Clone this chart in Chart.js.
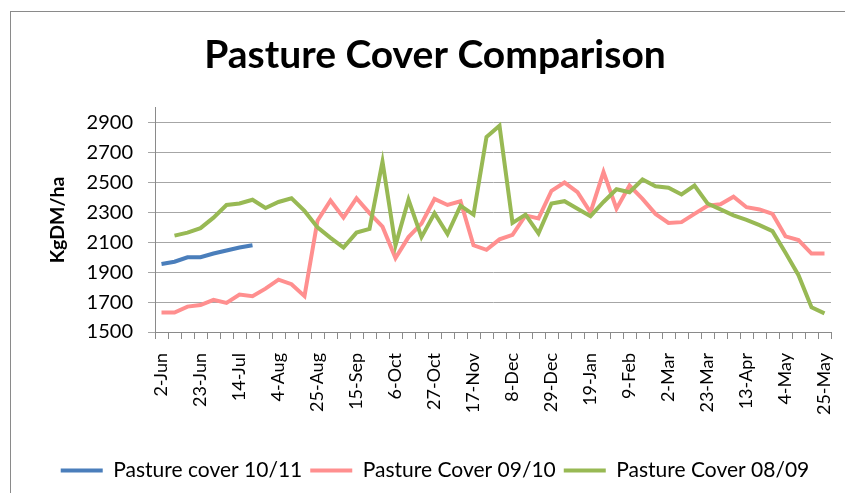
<!DOCTYPE html>
<html lang="en">
<head>
<meta charset="UTF-8">
<title>Pasture Cover Comparison</title>
<script src="https://cdn.jsdelivr.net/npm/chart.js"></script>
<style>
    html, body { margin: 0; padding: 0; background: #fff; overflow: hidden; }
    #wrap { position: relative; width: 845px; height: 493px; }
    #frame { position: absolute; left: 10px; top: 11px; width: 900px; height: 600px;
             border: 1.5px solid #8a8a8a; box-sizing: border-box; }
    canvas { position: absolute; left: 0; top: 0; }
</style>
</head>
<body>
<div id="wrap">
    <div id="frame"></div>
    <canvas id="grafico" width="845" height="493"></canvas>
</div>

<script>
    // weekly dates, June to May
    var semanas = ['2-Jun', '9-Jun', '16-Jun', '23-Jun', '30-Jun', '7-Jul', '14-Jul', '21-Jul', '28-Jul',
        '4-Aug', '11-Aug', '18-Aug', '25-Aug', '1-Sep', '8-Sep', '15-Sep', '22-Sep', '29-Sep',
        '6-Oct', '13-Oct', '20-Oct', '27-Oct', '3-Nov', '10-Nov', '17-Nov', '24-Nov', '1-Dec',
        '8-Dec', '15-Dec', '22-Dec', '29-Dec', '5-Jan', '12-Jan', '19-Jan', '26-Jan', '2-Feb',
        '9-Feb', '16-Feb', '23-Feb', '2-Mar', '9-Mar', '16-Mar', '23-Mar', '30-Mar', '6-Apr',
        '13-Apr', '20-Apr', '27-Apr', '4-May', '11-May', '18-May', '25-May'];

    var cover1011 = [1955, 1970, 2000, 2000, 2025, 2045, 2065, 2080];

    var cover0910 = [1630, 1630, 1670, 1680, 1715, 1695, 1750, 1740, 1790, 1850, 1820, 1740,
        2245, 2380, 2265, 2395, 2295, 2205, 1995, 2135, 2225, 2390, 2350, 2375, 2080, 2050,
        2120, 2150, 2280, 2260, 2445, 2500, 2435, 2300, 2570, 2325, 2480, 2390, 2290, 2230,
        2235, 2290, 2345, 2355, 2405, 2335, 2320, 2290, 2140, 2115, 2025, 2025];

    var cover0809 = [null, 2145, 2165, 2195, 2265, 2350, 2360, 2385, 2330, 2370, 2395, 2310,
        2200, 2130, 2065, 2165, 2190, 2640, 2080, 2385, 2135, 2295, 2155, 2345, 2285, 2805,
        2880, 2230, 2285, 2160, 2360, 2375, 2325, 2275, 2370, 2455, 2435, 2520, 2475, 2465,
        2420, 2480, 2360, 2320, 2280, 2250, 2215, 2175, 2030, 1880, 1665, 1625];

    var yTicks = [1500, 1700, 1900, 2100, 2300, 2500, 2700, 2900];

    var fonte = 'Lato, "Liberation Sans", sans-serif';

    var ctx = document.getElementById('grafico').getContext('2d');
    var grafico = new Chart(ctx, {
        type: 'line',
        data: {
            labels: semanas,
            datasets: [{
                label: 'Pasture cover 10/11',
                data: cover1011,
                borderColor: '#4a7ebb',
                backgroundColor: '#4a7ebb',
                borderWidth: 4,
                pointRadius: 0,
                order: 0
            }, {
                label: 'Pasture Cover 09/10',
                data: cover0910,
                borderColor: '#ff8f8f',
                backgroundColor: '#ff8f8f',
                borderWidth: 4,
                pointRadius: 0,
                order: 2
            }, {
                label: 'Pasture Cover 08/09',
                data: cover0809,
                borderColor: '#98b954',
                backgroundColor: '#98b954',
                borderWidth: 4,
                pointRadius: 0,
                order: 1
            }]
        },
        options: {
            responsive: false,
            animation: false,
            events: [],
            layout: { padding: { left: 25, right: 0, top: 0, bottom: 2 } },
            plugins: {
                title: {
                    display: true,
                    text: 'Pasture Cover Comparison',
                    color: '#000',
                    font: { family: fonte, size: 39, weight: 'bold' },
                    padding: { top: 32, bottom: 29 }
                },
                legend: {
                    position: 'bottom',
                    labels: {
                        usePointStyle: true,
                        pointStyle: 'line',
                        pointStyleWidth: 42,
                        color: '#000',
                        font: { family: fonte, size: 21 },
                        padding: 8,
                        sort: function (a, b) { return a.datasetIndex - b.datasetIndex; }
                    }
                },
                tooltip: { enabled: false }
            },
            scales: {
                x: {
                    offset: true,
                    grid: {
                        offset: true,
                        drawOnChartArea: false,
                        drawTicks: true,
                        tickLength: 7,
                        color: '#8a8a8a'
                    },
                    border: { color: '#8a8a8a' },
                    ticks: {
                        autoSkip: false,
                        maxRotation: 90,
                        minRotation: 90,
                        padding: 14,
                        color: '#000',
                        font: { family: fonte, size: 18 },
                        callback: function (valor, indice) {
                            return indice % 3 === 0 ? semanas[indice] : '';
                        }
                    },
                    afterFit: function (escala) {
                        escala.height = 120;
                        escala.paddingRight = 14;
                    }
                },
                y: {
                    min: 1500,
                    max: 3000,
                    grid: {
                        color: '#a6a6a6',
                        tickLength: 7
                    },
                    border: { color: '#8a8a8a' },
                    ticks: {
                        padding: 15,
                        color: '#000',
                        font: { family: fonte, size: 20 },
                        callback: function (valor) { return String(valor); }
                    },
                    afterBuildTicks: function (escala) {
                        escala.ticks = yTicks.map(function (v) { return { value: v }; });
                    },
                    title: {
                        display: true,
                        text: 'KgDM/ha',
                        color: '#000',
                        font: { family: fonte, size: 19.5, weight: 'bold' },
                        padding: { top: 21, bottom: 0 }
                    },
                    afterFit: function (escala) {
                        escala.width = 130;
                    }
                }
            }
        }
    });
</script>
</body>
</html>
